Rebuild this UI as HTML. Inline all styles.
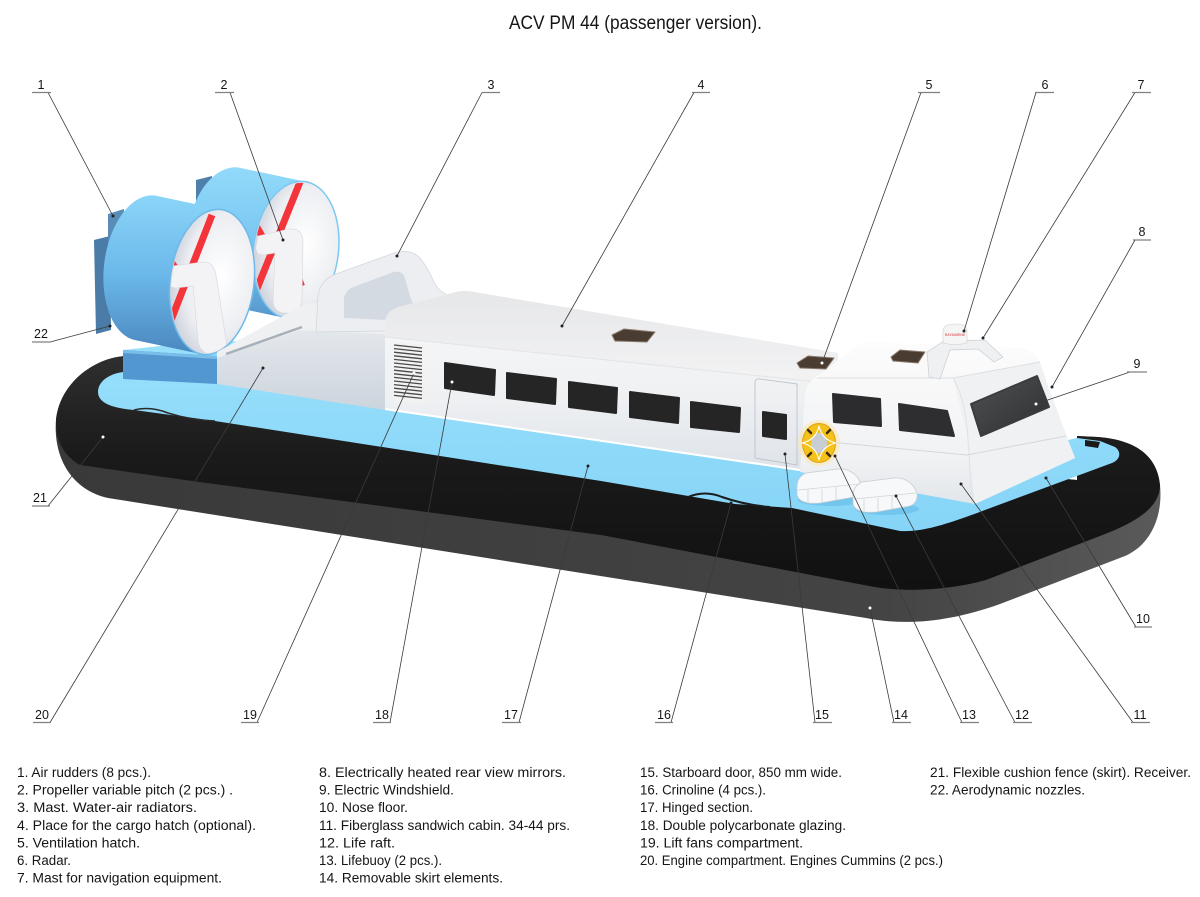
<!DOCTYPE html>
<html><head><meta charset="utf-8"><style>
html,body{margin:0;padding:0;background:#fff;}
svg{display:block;}
text{font-family:"Liberation Sans","DejaVu Sans",sans-serif;fill:#151515;}
</style></head><body>
<svg width="1200" height="897" viewBox="0 0 1200 897" xmlns="http://www.w3.org/2000/svg">
<defs>
  <linearGradient id="tubeG" x1="0" y1="360" x2="0" y2="600" gradientUnits="userSpaceOnUse">
    <stop offset="0" stop-color="#2e2e2e"/><stop offset="0.4" stop-color="#1a1a1a"/><stop offset="1" stop-color="#101010"/>
  </linearGradient>
  <linearGradient id="greyG" x1="60" y1="0" x2="1160" y2="0" gradientUnits="userSpaceOnUse">
    <stop offset="0" stop-color="#393939"/><stop offset="0.75" stop-color="#444"/><stop offset="1" stop-color="#5a5a5a"/>
  </linearGradient>
  <linearGradient id="deckG" x1="0" y1="0" x2="0" y2="1">
    <stop offset="0" stop-color="#98e0fc"/><stop offset="1" stop-color="#86d4f7"/>
  </linearGradient>
  <linearGradient id="fanG" x1="0" y1="0" x2="0" y2="1">
    <stop offset="0" stop-color="#8ad5f8"/><stop offset="0.5" stop-color="#6bb8ea"/><stop offset="1" stop-color="#4a87bf"/>
  </linearGradient>
  <linearGradient id="fanG2" x1="0" y1="0" x2="0" y2="1">
    <stop offset="0" stop-color="#92dafa"/><stop offset="0.6" stop-color="#74c2ef"/><stop offset="1" stop-color="#5696cc"/>
  </linearGradient>
  <radialGradient id="innerG" cx="0.6" cy="0.45" r="0.6">
    <stop offset="0" stop-color="#ffffff"/><stop offset="0.7" stop-color="#eceef2"/><stop offset="1" stop-color="#cfd3dc"/>
  </radialGradient>
  <linearGradient id="cabG" x1="0" y1="0" x2="0" y2="1">
    <stop offset="0" stop-color="#f9f9fa"/><stop offset="0.6" stop-color="#eef0f2"/><stop offset="1" stop-color="#dde3e9"/>
  </linearGradient>
  <linearGradient id="roofG" x1="0" y1="0" x2="0" y2="1">
    <stop offset="0" stop-color="#e6e7e9"/><stop offset="1" stop-color="#f3f3f4"/>
  </linearGradient>
  <linearGradient id="ecG" x1="0" y1="0" x2="0" y2="1">
    <stop offset="0" stop-color="#e4e8ec"/><stop offset="1" stop-color="#ccd4dd"/>
  </linearGradient>
  <linearGradient id="whG" x1="0" y1="0" x2="0" y2="1">
    <stop offset="0" stop-color="#fcfcfc"/><stop offset="0.7" stop-color="#f1f2f4"/><stop offset="1" stop-color="#e2e6ea"/>
  </linearGradient>
  <linearGradient id="wsG" x1="0" y1="0" x2="1" y2="1">
    <stop offset="0" stop-color="#505152"/><stop offset="1" stop-color="#2e2f31"/>
  </linearGradient>
  <clipPath id="clipR"><ellipse cx="296" cy="250" rx="41" ry="67.5" transform="rotate(7 296 250)"/></clipPath>
  <clipPath id="clipL"><ellipse cx="212" cy="282" rx="40.5" ry="71.5" transform="rotate(7 212 282)"/></clipPath>
</defs>

<!-- Title -->
<text x="635.5" y="29" text-anchor="middle" font-size="19" textLength="253" lengthAdjust="spacingAndGlyphs">ACV PM 44 (passenger version).</text>

<!-- SKIRT -->
<path d="M125,356 C95,358 60,382 56,420 C53,458 72,490 108,498 L866,618 C905,626 950,622 1000,604 L1125,556 C1152,544 1163,515 1160,485 C1157,455 1135,440 1098,437 L1077,436 L1077,480 L215,400 L125,372 Z" fill="url(#greyG)"/>
<path d="M125,356 C95,358 60,382 56,420 C55,440 64,456 80,465 L199,482 L601,535 L869,586 C905,593 950,590 986,580 L1100,536 C1135,523 1160,508 1160,485 C1157,455 1135,440 1098,437 L1077,436 L1077,480 L215,400 L125,372 Z" fill="url(#tubeG)"/>

<!-- DECK -->
<path d="M123,372 C108,374 98,382 98,392 C98,402 110,408 134,410 L215,421 L601,481 L735,504 L792,508 L900,531 C920,532 940,527 985,510 L1112,463 C1120,460 1122,452 1115,447 L1100,441 L1077,438 L1068,440 L1050,392 L215,340 L123,350 Z" fill="url(#deckG)"/>
<path d="M688,497 Q705,490 722,497 Q745,505 770,507" fill="none" stroke="#1c1c1c" stroke-width="2"/>
<path d="M134,410 Q150,406 168,413 Q190,420 215,421" fill="none" stroke="#2a2a2a" stroke-width="1.5"/>
<path d="M1085,440 L1085,446 L1098,448 L1100,442 Z" fill="#1a1a1a"/>

<!-- FAN BASE -->
<polygon points="123,350 217,356 217,384 123,379" fill="#5297cf"/>
<polygon points="123,350 217,356 217,359 123,353" fill="#79bde9"/>

<!-- RIGHT (rear) FAN -->
<polygon points="196,180 212,176 212,202 196,206" fill="#4f80ab"/>
<path d="M238.4,167.5 L304.4,181.5 A42.5,69 7 0 1 287.6,318.5 L221.6,304.5 A42.5,69 7 0 1 238.4,167.5 Z" fill="url(#fanG2)"/>
<ellipse cx="296" cy="250" rx="42.5" ry="69" transform="rotate(7 296 250)" fill="url(#innerG)" stroke="#7cc8f2" stroke-width="1.5"/>
<g clip-path="url(#clipR)">
  <line x1="300" y1="182" x2="254" y2="296" stroke="#f3353b" stroke-width="7"/>
  <line x1="255" y1="224" x2="270" y2="250" stroke="#f3353b" stroke-width="7"/>
  <line x1="296" y1="270" x2="302" y2="286" stroke="#f3353b" stroke-width="6"/>
  <path d="M258,236 L289,229 Q303,228 303,242 L302,300 Q300,313 290,313 L283,313 Q273,311 273,300 L275,253 L263,255 Q255,255 256,246 Z" fill="#f3f3f6" stroke="#d3d6dd" stroke-width="0.6"/>
</g>

<!-- RUDDERS -->
<polygon points="94,240 110,236 111,330 96,334" fill="#4b7ca8"/>
<polygon points="108,214 124,209 124,242 108,244" fill="#5a8cb8"/>

<!-- LEFT (front) FAN -->
<path d="M154.9,195.5 L220.9,209.5 A42,73 7 0 1 203.1,354.5 L137.1,340.5 A42,73 7 0 1 154.9,195.5 Z" fill="url(#fanG)"/>
<ellipse cx="212" cy="282" rx="42" ry="73" transform="rotate(7 212 282)" fill="url(#innerG)" stroke="#6cb9ea" stroke-width="1.5"/>
<g clip-path="url(#clipL)">
  <line x1="212" y1="215" x2="168" y2="328" stroke="#f3353b" stroke-width="7"/>
  <line x1="166" y1="254" x2="186" y2="282" stroke="#f3353b" stroke-width="6"/>
  <path d="M172,266 L203,262 Q214,262 216,275 L226,340 Q228,353 217,354 L209,354 Q200,352 198,341 L193,286 L176,288 Q168,288 168,279 Z" fill="#f3f3f6" stroke="#d3d6dd" stroke-width="0.6"/>
</g>

<!-- ENGINE COMPARTMENT + MAST 3 -->
<path d="M217,358 L300,330 L385,333 L385,410 L217,384 Z" fill="url(#ecG)"/>
<path d="M217,352 L305,304 L385,296 L385,334 L300,330 L217,358 Z" fill="#eef0f2"/>
<path d="M226,354 L302,327" stroke="#a7afb9" stroke-width="2.5"/>
<path d="M316,332 L318,296 Q320,280 336,274 L394,253 Q410,248 420,258 Q428,268 434,282 Q440,294 452,296 L452,330 Z" fill="#eceef1" stroke="#d0d5dc" stroke-width="0.7"/>
<path d="M344,318 L344,298 Q346,289 356,286 L394,272 Q402,270 405,278 L410,296 Q414,310 428,316 L428,322 Z" fill="#d4dae1"/>

<!-- MAIN CABIN -->
<path d="M385,410 L385,324 Q385,311 399,307 L456,292 Q465,290 474,292 L838,353 L838,473 L800,471 Z" fill="url(#cabG)"/>
<path d="M385,337 L385,324 Q385,311 399,307 L456,292 Q465,290 474,292 L838,353 L838,384 Z" fill="url(#roofG)"/>
<path d="M385,337 L838,384" stroke="#e2e4e7" stroke-width="1"/>
<path d="M385,409 L800,470" stroke="#ffffff" stroke-width="2"/>
<!-- vent -->
<polygon points="393,342 423,345 423,403 393,400" fill="#f2f2f2"/>
<g stroke="#4a4a4a" stroke-width="1.3">
  <line x1="394" y1="345" x2="422" y2="348"/><line x1="394" y1="348.6" x2="422" y2="351.6"/>
  <line x1="394" y1="352.2" x2="422" y2="355.2"/><line x1="394" y1="355.8" x2="422" y2="358.8"/>
  <line x1="394" y1="359.4" x2="422" y2="362.4"/><line x1="394" y1="363" x2="422" y2="366"/>
  <line x1="394" y1="366.6" x2="422" y2="369.6"/><line x1="394" y1="370.2" x2="422" y2="373.2"/>
  <line x1="394" y1="373.8" x2="422" y2="376.8"/><line x1="394" y1="377.4" x2="422" y2="380.4"/>
  <line x1="394" y1="381" x2="422" y2="384"/><line x1="394" y1="384.6" x2="422" y2="387.6"/>
  <line x1="394" y1="388.2" x2="422" y2="391.2"/><line x1="394" y1="391.8" x2="422" y2="394.8"/>
  <line x1="394" y1="395.4" x2="422" y2="398.4"/>
</g>
<!-- windows -->
<g fill="#252525" stroke="#252525" stroke-width="2" stroke-linejoin="round">
  <polygon points="445,363 495,370 494,395 445,388"/>
  <polygon points="507,373 556,379 555,404 507,398"/>
  <polygon points="569,382 617,388 616,413 569,407"/>
  <polygon points="630,392 679,398 678,423 630,417"/>
  <polygon points="691,402 740,408 739,432 691,427"/>
  <polygon points="763,412 786,415 786,439 763,436"/>
</g>
<!-- door -->
<path d="M755,458 L755,383 Q755,378 760,379 L797,384 L797,465 L755,458" fill="none" stroke="#b8bec6" stroke-width="0.8"/>
<!-- hatches -->
<polygon points="612,335 624,329 655,332 647,342 615,341" fill="#4a3c31" stroke="#8a7a6c" stroke-width="1" stroke-linejoin="round"/>
<polygon points="797,363 808,356 834,358 826,369 800,368" fill="#4a3c31" stroke="#8a7a6c" stroke-width="1" stroke-linejoin="round"/>

<!-- WHEELHOUSE -->
<path d="M800,472 L805,393 Q808,380 823,372 L858,345 Q862,342 870,342 L1020,348 Q1033,349 1040,362 L1050,392 L1068,440 L1075,458 L975,504 Z" fill="url(#whG)"/>
<path d="M953,378 L1040,362 L1050,392 L1068,440 L1075,458 L975,504 L968,440 Z" fill="#f0f1f3"/>
<path d="M817,378 L953,378 L1040,362" fill="none" stroke="#dcdfe3" stroke-width="1"/>
<path d="M953,378 Q966,400 968,440 L972,500" fill="none" stroke="#dfe2e6" stroke-width="1"/>
<path d="M808,440 L967,455 L1066,436" fill="none" stroke="#d3d7dd" stroke-width="1"/>
<polygon points="891,357 900,350 925,352 918,363 893,361" fill="#4a3c31" stroke="#8a7a6c" stroke-width="1" stroke-linejoin="round"/>
<g stroke-linejoin="round" stroke-width="2">
  <polygon points="833,394 880,399 881,426 834,422" fill="#2c2c2e" stroke="#2c2c2e"/>
  <polygon points="899,404 947,411 954,436 900,430" fill="#2e2e30" stroke="#2e2e30"/>
  <polygon points="971,404 1037,376 1049,407 981,436" fill="url(#wsG)" stroke="#3a3b3d"/>
</g>
<!-- mast 7 -->
<polygon points="927,352 944,341 985,340 1003,357 994,362 978,349 950,350 940,379 929,377" fill="#eef0f2" stroke="#c9ced5" stroke-width="0.7"/>
<!-- radar -->
<path d="M943,343 L943,331 Q943,324 955,324 Q967,324 967,331 L967,343 Q955,346 943,343 Z" fill="#f5f5f5" stroke="#cfcfcf" stroke-width="0.6"/>
<text x="955" y="336" text-anchor="middle" font-size="3.5" style="fill:#e03030">RAYMARINE</text>

<!-- LIFE RAFTS -->
<ellipse cx="830" cy="500" rx="32" ry="6" fill="#72c6ee"/>
<ellipse cx="887" cy="509" rx="32" ry="6" fill="#72c6ee"/>
<g fill="#f7f8fa" stroke="#c8ccd3" stroke-width="0.8">
  <path d="M797,487 Q797,477 806,473 L838,469 Q850,468 858,478 L861,484 Q862,494 854,497 L820,503 Q800,505 797,495 Z"/>
  <path d="M853,496 Q853,486 862,482 L894,478 Q906,477 914,487 L917,493 Q918,503 910,506 L876,512 Q856,514 853,504 Z"/>
</g>
<g stroke="#cfd3da" stroke-width="0.8">
  <line x1="798" y1="490" x2="860" y2="484"/><line x1="854" y1="499" x2="916" y2="493"/>
  <line x1="808" y1="490" x2="808" y2="502"/><line x1="822" y1="489" x2="822" y2="502"/><line x1="836" y1="487" x2="836" y2="500"/>
  <line x1="864" y1="499" x2="864" y2="511"/><line x1="878" y1="498" x2="878" y2="511"/><line x1="892" y1="496" x2="892" y2="509"/>
</g>

<!-- LIFEBUOY -->
<ellipse cx="819" cy="443" rx="21" ry="23" fill="#ffe4a0" opacity="0.45"/>
<ellipse cx="819" cy="443" rx="16.5" ry="19.5" fill="#f5c21c" stroke="#e0a010" stroke-width="1"/>
<ellipse cx="819" cy="443" rx="8" ry="10" fill="#c9ced5"/>
<path d="M819,426 Q822,440 836,443 Q822,446 819,460 Q816,446 802,443 Q816,440 819,426 Z" fill="none" stroke="#ffffff" stroke-width="1.1"/>
<g stroke="#3a2a10" stroke-width="2.5" stroke-linecap="round">
  <line x1="808" y1="430" x2="811" y2="433"/><line x1="830" y1="430" x2="827" y2="433"/>
  <line x1="808" y1="456" x2="811" y2="453"/><line x1="830" y1="456" x2="827" y2="453"/>
</g>

<!-- LEADERS -->
<g stroke="#3a3a3a" stroke-width="0.8" fill="none">
  <line x1="48" y1="92.5" x2="113" y2="216"/>
  <line x1="230" y1="92.5" x2="283" y2="240"/>
  <line x1="482" y1="92.5" x2="397" y2="256"/>
  <line x1="694" y1="92.5" x2="562" y2="326"/>
  <line x1="921" y1="92.5" x2="822" y2="363"/>
  <line x1="1036" y1="92.5" x2="964" y2="331"/>
  <line x1="1135" y1="92.5" x2="983" y2="338"/>
  <line x1="1135" y1="240" x2="1052" y2="387"/>
  <line x1="1130" y1="372" x2="1036" y2="404"/>
  <line x1="50" y1="342" x2="110" y2="326"/>
  <line x1="48" y1="506" x2="103" y2="437"/>
  <line x1="1136" y1="627" x2="1046" y2="478"/>
  <line x1="50" y1="722.5" x2="263" y2="368"/>
  <line x1="257" y1="722.5" x2="414" y2="373"/>
  <line x1="390" y1="722.5" x2="452" y2="382"/>
  <line x1="519" y1="722.5" x2="588" y2="466"/>
  <line x1="671" y1="722.5" x2="731" y2="503"/>
  <line x1="815" y1="722.5" x2="785" y2="454"/>
  <line x1="894" y1="722.5" x2="870" y2="608"/>
  <line x1="962" y1="722.5" x2="835" y2="456"/>
  <line x1="1015" y1="722.5" x2="896" y2="496"/>
  <line x1="1133" y1="722.5" x2="961" y2="484"/>
</g>
<!-- underlines -->
<g stroke="#808080" stroke-width="1.3">
  <line x1="32" y1="92.5" x2="51" y2="92.5"/>
  <line x1="215" y1="92.5" x2="234" y2="92.5"/>
  <line x1="482" y1="92.5" x2="500" y2="92.5"/>
  <line x1="692" y1="92.5" x2="710" y2="92.5"/>
  <line x1="918" y1="92.5" x2="940" y2="92.5"/>
  <line x1="1035" y1="92.5" x2="1054" y2="92.5"/>
  <line x1="1132" y1="92.5" x2="1151" y2="92.5"/>
  <line x1="1133" y1="240" x2="1151" y2="240"/>
  <line x1="1127" y1="372" x2="1147" y2="372"/>
  <line x1="32" y1="342" x2="51" y2="342"/>
  <line x1="32" y1="506" x2="50" y2="506"/>
  <line x1="1134" y1="627" x2="1152" y2="627"/>
  <line x1="33" y1="722.5" x2="51" y2="722.5"/>
  <line x1="241" y1="722.5" x2="259" y2="722.5"/>
  <line x1="373" y1="722.5" x2="391" y2="722.5"/>
  <line x1="502" y1="722.5" x2="521" y2="722.5"/>
  <line x1="655" y1="722.5" x2="673" y2="722.5"/>
  <line x1="813" y1="722.5" x2="832" y2="722.5"/>
  <line x1="892" y1="722.5" x2="911" y2="722.5"/>
  <line x1="960" y1="722.5" x2="979" y2="722.5"/>
  <line x1="1013" y1="722.5" x2="1032" y2="722.5"/>
  <line x1="1131" y1="722.5" x2="1150" y2="722.5"/>
</g>
<!-- dots -->
<g fill="#222">
  <circle cx="113" cy="216" r="1.5"/><circle cx="283" cy="240" r="1.5"/><circle cx="397" cy="256" r="1.5"/>
  <circle cx="562" cy="326" r="1.5"/><circle cx="964" cy="331" r="1.5"/><circle cx="983" cy="338" r="1.5"/>
  <circle cx="1052" cy="387" r="1.5"/><circle cx="110" cy="326" r="1.5"/><circle cx="1046" cy="478" r="1.5"/>
  <circle cx="263" cy="368" r="1.5"/><circle cx="588" cy="466" r="1.5"/><circle cx="731" cy="503" r="1.5"/>
  <circle cx="785" cy="454" r="1.5"/><circle cx="835" cy="456" r="1.5"/><circle cx="896" cy="496" r="1.5"/>
  <circle cx="961" cy="484" r="1.5"/>
</g>
<g fill="#fff">
  <circle cx="822" cy="363" r="1.5"/><circle cx="1036" cy="404" r="1.5"/><circle cx="103" cy="437" r="1.5"/>
  <circle cx="414" cy="373" r="1.5"/><circle cx="452" cy="382" r="1.5"/><circle cx="870" cy="608" r="1.5"/>
</g>
<!-- number labels -->
<g font-size="12.5" text-anchor="middle">
  <text x="41" y="89">1</text><text x="224" y="89">2</text><text x="491" y="89">3</text>
  <text x="701" y="89">4</text><text x="929" y="89">5</text><text x="1045" y="89">6</text>
  <text x="1141" y="89">7</text><text x="1142" y="236">8</text><text x="1137" y="368">9</text>
  <text x="41" y="338">22</text><text x="40" y="502">21</text><text x="1143" y="623">10</text>
  <text x="42" y="719">20</text><text x="250" y="719">19</text><text x="382" y="719">18</text>
  <text x="511" y="719">17</text><text x="664" y="719">16</text><text x="822" y="719">15</text>
  <text x="901" y="719">14</text><text x="969" y="719">13</text><text x="1022" y="719">12</text>
  <text x="1140" y="719">11</text>
</g>

<!-- LEGEND -->
<g font-size="13.5">
  <text x="17" y="777" textLength="134" lengthAdjust="spacingAndGlyphs">1. Air rudders (8 pcs.).</text>
  <text x="17" y="794.6" textLength="216" lengthAdjust="spacingAndGlyphs">2. Propeller variable pitch (2 pcs.) .</text>
  <text x="17" y="812.2" textLength="180" lengthAdjust="spacingAndGlyphs">3. Mast. Water-air radiators.</text>
  <text x="17" y="829.8" textLength="239" lengthAdjust="spacingAndGlyphs">4. Place for the cargo hatch (optional).</text>
  <text x="17" y="847.4" textLength="123" lengthAdjust="spacingAndGlyphs">5. Ventilation hatch.</text>
  <text x="17" y="865" textLength="54" lengthAdjust="spacingAndGlyphs">6. Radar.</text>
  <text x="17" y="882.6" textLength="205" lengthAdjust="spacingAndGlyphs">7. Mast for navigation equipment.</text>

  <text x="319" y="777" textLength="247" lengthAdjust="spacingAndGlyphs">8. Electrically heated rear view mirrors.</text>
  <text x="319" y="794.6" textLength="135" lengthAdjust="spacingAndGlyphs">9. Electric Windshield.</text>
  <text x="319" y="812.2" textLength="89" lengthAdjust="spacingAndGlyphs">10. Nose floor.</text>
  <text x="319" y="829.8" textLength="251" lengthAdjust="spacingAndGlyphs">11. Fiberglass sandwich cabin. 34-44 prs.</text>
  <text x="319" y="847.4" textLength="76" lengthAdjust="spacingAndGlyphs">12. Life raft.</text>
  <text x="319" y="865" textLength="123" lengthAdjust="spacingAndGlyphs">13. Lifebuoy (2 pcs.).</text>
  <text x="319" y="882.6" textLength="184" lengthAdjust="spacingAndGlyphs">14. Removable skirt elements.</text>

  <text x="640" y="777" textLength="202" lengthAdjust="spacingAndGlyphs">15. Starboard door, 850 mm wide.</text>
  <text x="640" y="794.6" textLength="126" lengthAdjust="spacingAndGlyphs">16. Crinoline (4 pcs.).</text>
  <text x="640" y="812.2" textLength="113" lengthAdjust="spacingAndGlyphs">17. Hinged section.</text>
  <text x="640" y="829.8" textLength="206" lengthAdjust="spacingAndGlyphs">18. Double polycarbonate glazing.</text>
  <text x="640" y="847.4" textLength="163" lengthAdjust="spacingAndGlyphs">19. Lift fans compartment.</text>
  <text x="640" y="865" textLength="303" lengthAdjust="spacingAndGlyphs">20. Engine compartment. Engines Cummins (2 pcs.)</text>

  <text x="930" y="777" textLength="261" lengthAdjust="spacingAndGlyphs">21. Flexible cushion fence (skirt). Receiver.</text>
  <text x="930" y="794.6" textLength="155" lengthAdjust="spacingAndGlyphs">22. Aerodynamic nozzles.</text>
</g>
</svg>
</body></html>
